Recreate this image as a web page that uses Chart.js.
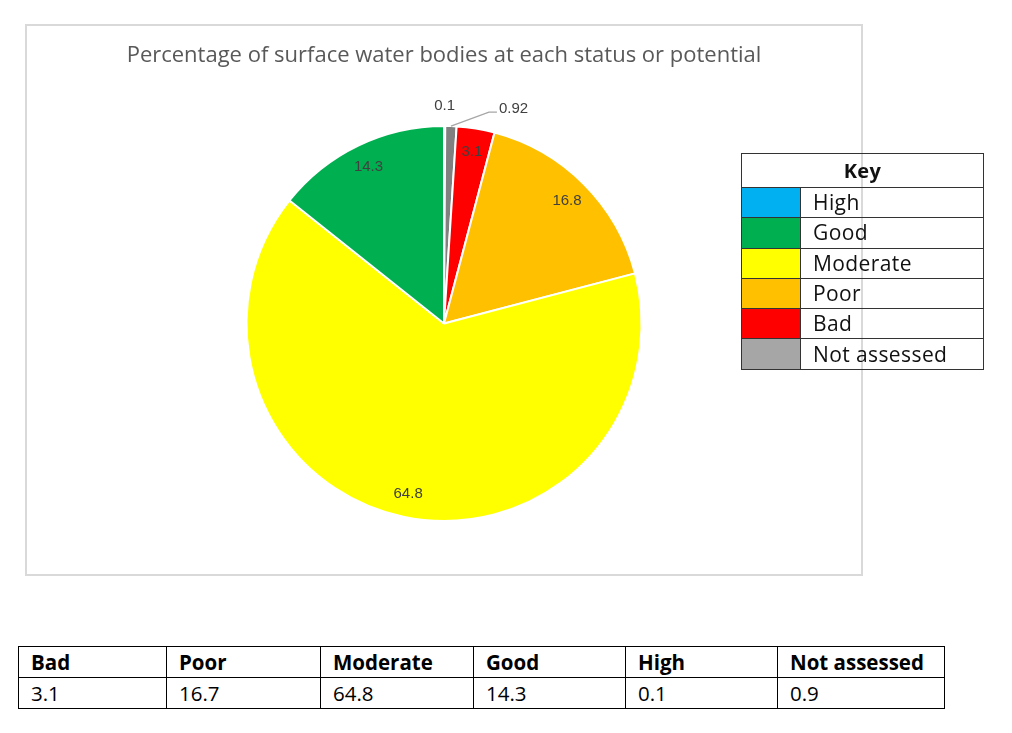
<!DOCTYPE html>
<html>
<head>
<meta charset="utf-8">
<script src="https://cdn.jsdelivr.net/npm/chart.js@4"></script>
<style>
  body { margin: 0; background: #fff; width: 1012px; height: 733px; position: relative; overflow: hidden; }
  #frame { position: absolute; left: 25px; top: 24px; width: 834px; height: 548px; border: 2px solid #d9d9d9; }
  #chartBox { position: absolute; left: 0; top: 0; width: 834px; height: 548px; }
  #key { position: absolute; left: 741px; top: 153px; width: 243px; border-collapse: collapse;
         font-family: "Open Sans", sans-serif; font-size: 21px; letter-spacing: 0.4px; color: #111; }
  #key td { border: 1.5px solid #333; height: 29.3px; padding: 0; line-height: 27px; }
  #key th { border: 1.5px solid #333; height: 31px; font-weight: bold; font-size: 20px; line-height: 28px; }
  #key td.sw { width: 58px; }
  #key td.nm { padding-left: 12px; }
  #data { position: absolute; left: 18px; top: 646px; width: 927px; border-collapse: collapse;
          font-family: "Open Sans", sans-serif; font-size: 20.5px; color: #000; table-layout: fixed; }
  #data td { border: 1.5px solid #000; height: 30px; padding: 0 0 0 12px; line-height: 28px; }
  #data tr:first-child td { font-weight: bold; }
</style>
</head>
<body>
<div id="frame"><div id="chartBox"><canvas id="pie"></canvas></div></div>
<table id="key"></table>
<table id="data"></table>
<script>
// pie, clockwise from 12 o'clock
const sliceNames = ["High", "Not assessed", "Bad", "Poor", "Moderate", "Good"];
const sliceValues = [0.1, 0.92, 3.1, 16.8, 64.8, 14.3];
const sliceLabels = ["0.1", "0.92", "3.1", "16.8", "64.8", "14.3"];
const sliceColors = ["#00b0f0", "#808080", "#ff0000", "#ffc000", "#ffff00", "#00b050"];

// key box on the right
const keyNames = ["High", "Good", "Moderate", "Poor", "Bad", "Not assessed"];
const keyColors = ["#00b0f0", "#00b050", "#ffff00", "#ffc000", "#ff0000", "#a6a6a6"];

// table under the chart
const tableHeads = ["Bad", "Poor", "Moderate", "Good", "High", "Not assessed"];
const tableValues = ["3.1", "16.7", "64.8", "14.3", "0.1", "0.9"];
const tableWidths = [148, 154, 153, 152, 152, 167];

const keyTable = document.getElementById("key");
let html = '<tr><th colspan="2">Key</th></tr>';
for (let i = 0; i < keyNames.length; i++) {
  html += `<tr><td class="sw" style="background:${keyColors[i]}"></td><td class="nm">${keyNames[i]}</td></tr>`;
}
keyTable.innerHTML = html;

const dataTable = document.getElementById("data");
let cols = tableWidths.map(w => `<col style="width:${w}px">`).join("");
dataTable.innerHTML = cols +
  "<tr>" + tableHeads.map(h => `<td>${h}</td>`).join("") + "</tr>" +
  "<tr>" + tableValues.map(v => `<td>${v}</td>`).join("") + "</tr>";

// slice value labels, small slices go outside
const sliceText = {
  id: "sliceText",
  afterDatasetsDraw(chart) {
    const ctx = chart.ctx;
    const arcs = chart.getDatasetMeta(0).data;
    ctx.save();
    ctx.font = '15px "Liberation Sans", Arial, sans-serif';
    ctx.fillStyle = "#404040";
    ctx.textBaseline = "middle";
    arcs.forEach((arc, i) => {
      const mid = (arc.startAngle + arc.endAngle) / 2;
      const r = arc.outerRadius;
      const cx = arc.x, cy = arc.y;
      const v = sliceValues[i];
      if (v < 0.5) {
        ctx.textAlign = "center";
        ctx.fillText(sliceLabels[i], cx + Math.cos(mid) * r * 1.1, cy + Math.sin(mid) * r * 1.1);
      } else if (v < 2) {
        const x0 = cx + Math.cos(mid) * r, y0 = cy + Math.sin(mid) * r;
        const x1 = x0 + 38, y1 = y0 - 14;
        ctx.strokeStyle = "#a6a6a6";
        ctx.lineWidth = 1.3;
        ctx.beginPath();
        ctx.moveTo(x0, y0);
        ctx.lineTo(x1, y1);
        ctx.lineTo(x1 + 8, y1);
        ctx.stroke();
        ctx.textAlign = "left";
        ctx.fillText(sliceLabels[i], x1 + 10, y1 - 3);
      } else {
        ctx.textAlign = "center";
        ctx.fillText(sliceLabels[i], cx + Math.cos(mid) * r * 0.88, cy + Math.sin(mid) * r * 0.88);
      }
    });
    ctx.restore();
  }
};

new Chart(document.getElementById("pie"), {
  type: "pie",
  data: {
    labels: sliceNames,
    datasets: [{
      data: sliceValues,
      backgroundColor: sliceColors,
      borderColor: "#ffffff",
      borderWidth: 2
    }]
  },
  options: {
    responsive: true,
    maintainAspectRatio: false,
    animation: false,
    layout: { padding: { top: 0, bottom: 52, left: 0, right: 0 } },
    plugins: {
      legend: { display: false },
      tooltip: { enabled: false },
      title: {
        display: true,
        text: "Percentage of surface water bodies at each status or potential",
        color: "#595959",
        font: { family: "Open Sans", size: 22, weight: "normal" },
        padding: { top: 17, bottom: 55.6 }
      }
    }
  },
  plugins: [sliceText]
});
</script>
</body>
</html>
